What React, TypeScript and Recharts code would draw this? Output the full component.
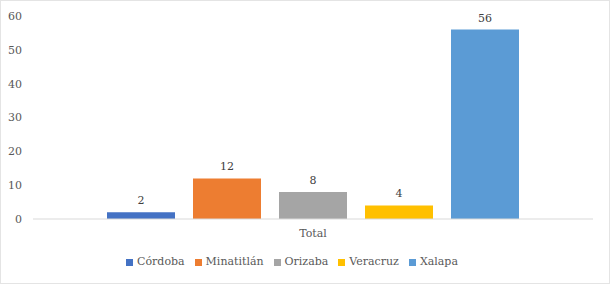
import { Bar, BarChart, LabelList, Legend, XAxis, YAxis } from "recharts";

const categories = ["Total"];
const seriesNames = ["Córdoba", "Minatitlán", "Orizaba", "Veracruz", "Xalapa"];
const seriesValues = [2, 12, 8, 4, 56];
const yTicks = [0, 10, 20, 30, 40, 50, 60];

const COLORS = ["#4472C4", "#ED7D31", "#A5A5A5", "#FFC000", "#5B9BD5"];
const FONT = "'DejaVu Serif', serif";

const chartData = categories.map((name) => {
  const row: Record<string, string | number> = { name };
  seriesNames.forEach((s, i) => {
    row[s] = seriesValues[i];
  });
  return row;
});

const tickStyle = { fill: "#595959", fontSize: 11 };

export default function App() {
  return (
    <div
      className="chart-box"
      style={{
        position: "fixed",
        top: 0,
        left: 0,
        width: 610,
        height: 284,
        boxSizing: "border-box",
        border: "1px solid #e4e4e4",
        background: "#fff",
      }}
    >
      <style>{`.chart-box, .chart-box text, .chart-box span, .chart-box li { font-family: ${FONT} !important; }`}</style>
      <BarChart
        width={608}
        height={282}
        data={chartData}
        margin={{ top: 15, right: 16, left: 0, bottom: 1 }}
        barCategoryGap={74}
        barGap={18}
      >
        <XAxis
          dataKey="name"
          height={30}
          axisLine={{ stroke: "#d9d9d9" }}
          tickLine={false}
          tick={{ ...tickStyle, dy: 2 }}
        />
        <YAxis
          width={32}
          domain={[0, 60]}
          ticks={yTicks}
          axisLine={false}
          tickLine={false}
          tick={tickStyle}
          tickMargin={5}
        />
        <Legend
          verticalAlign="bottom"
          iconType="square"
          iconSize={7}
          wrapperStyle={{ height: 27, paddingTop: 6, fontSize: 11 }}
          formatter={(v) => <span style={{ color: "#595959" }}>{v}</span>}
        />
        {seriesNames.map((s, i) => (
          <Bar key={s} dataKey={s} fill={COLORS[i]} isAnimationActive={false}>
            <LabelList dataKey={s} position="top" offset={8} fill="#404040" fontSize={11} />
          </Bar>
        ))}
      </BarChart>
    </div>
  );
}
